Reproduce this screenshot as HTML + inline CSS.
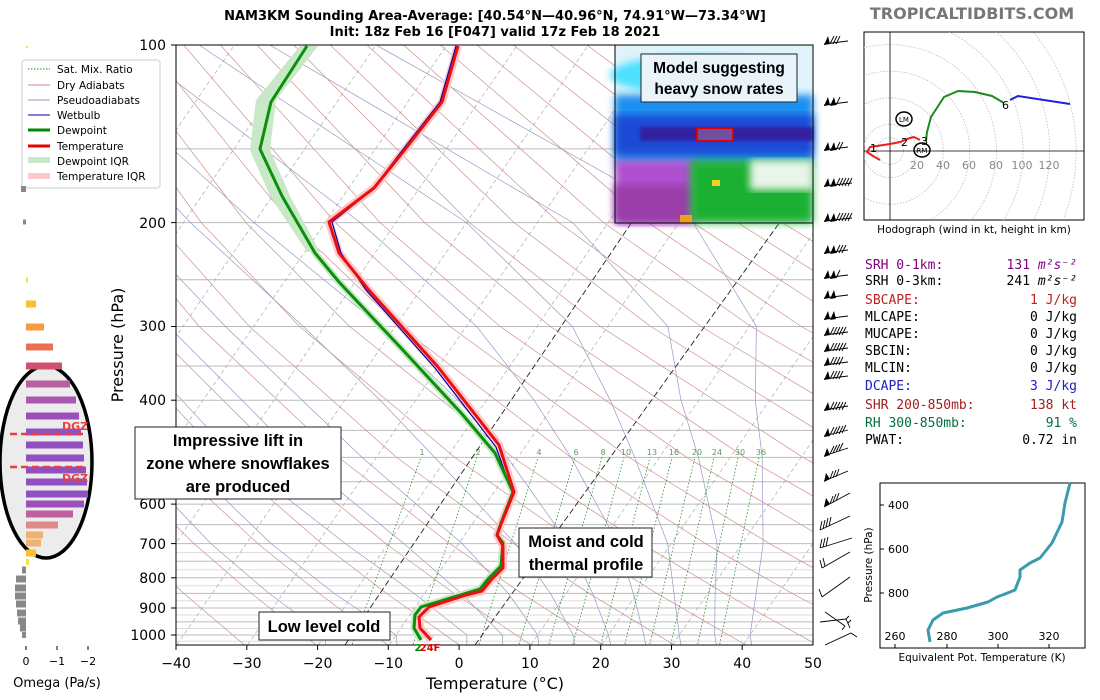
<!DOCTYPE html>
<html><head><meta charset="utf-8"><style>
html,body{margin:0;padding:0;background:#fff;width:1100px;height:700px;overflow:hidden}
svg{display:block;font-family:"DejaVu Sans","Liberation Sans",sans-serif}
.mono{font-family:"DejaVu Sans Mono","Liberation Mono",monospace;font-size:13px}
</style></head><body>
<svg width="1100" height="700" viewBox="0 0 1100 700" xmlns="http://www.w3.org/2000/svg">
<defs>
<clipPath id="ax"><rect x="176" y="45" width="637" height="600"/></clipPath>
<clipPath id="hod"><rect x="864" y="32" width="220" height="188"/></clipPath>
<filter id="bl"><feGaussianBlur stdDeviation="4"/></filter>
<filter id="bl2"><feGaussianBlur stdDeviation="1.5"/></filter>
</defs>
<rect width="1100" height="700" fill="#fff"/>
<text x="495" y="20" font-size="13" font-weight="bold" text-anchor="middle">NAM3KM Sounding Area-Average: [40.54°N—40.96°N, 74.91°W—73.34°W]</text>
<text x="495" y="36" font-size="13" font-weight="bold" text-anchor="middle">Init: 18z Feb 16 [F047] valid 17z Feb 18 2021</text>
<text x="972" y="19" font-size="16" font-weight="bold" fill="#777" text-anchor="middle">TROPICALTIDBITS.COM</text>

<g clip-path="url(#ax)">
<g stroke="#bbb" stroke-width="1">
<line x1="176" x2="813" y1="45" y2="45"/><line x1="176" x2="813" y1="148.9" y2="148.9"/><line x1="176" x2="813" y1="222.6" y2="222.6"/><line x1="176" x2="813" y1="279.8" y2="279.8"/><line x1="176" x2="813" y1="326.5" y2="326.5"/><line x1="176" x2="813" y1="366" y2="366"/><line x1="176" x2="813" y1="400.2" y2="400.2"/><line x1="176" x2="813" y1="430.4" y2="430.4"/><line x1="176" x2="813" y1="457.4" y2="457.4"/><line x1="176" x2="813" y1="481.8" y2="481.8"/><line x1="176" x2="813" y1="504.1" y2="504.1"/><line x1="176" x2="813" y1="524.6" y2="524.6"/><line x1="176" x2="813" y1="543.6" y2="543.6"/><line x1="176" x2="813" y1="561.3" y2="561.3"/><line x1="176" x2="813" y1="577.8" y2="577.8"/><line x1="176" x2="813" y1="593.4" y2="593.4"/><line x1="176" x2="813" y1="608" y2="608"/><line x1="176" x2="813" y1="621.9" y2="621.9"/><line x1="176" x2="813" y1="635" y2="635"/>
</g>
<g stroke="#ddd" stroke-width="1">
<line x1="176" x2="813" y1="552.6" y2="552.6"/><line x1="176" x2="813" y1="569.7" y2="569.7"/><line x1="176" x2="813" y1="585.7" y2="585.7"/><line x1="176" x2="813" y1="600.8" y2="600.8"/><line x1="176" x2="813" y1="615" y2="615"/><line x1="176" x2="813" y1="628.5" y2="628.5"/><line x1="176" x2="813" y1="641.3" y2="641.3"/>
</g>
<g stroke="#aaa" stroke-width="0.7" stroke-dasharray="4,3">
<line x1="-248" y1="645" x2="163.6" y2="45"/><line x1="-177.2" y1="645" x2="234.4" y2="45"/><line x1="-106.4" y1="645" x2="305.2" y2="45"/><line x1="-35.6" y1="645" x2="376" y2="45"/><line x1="35.2" y1="645" x2="446.8" y2="45"/><line x1="106" y1="645" x2="517.6" y2="45"/><line x1="176.8" y1="645" x2="588.4" y2="45"/><line x1="247.6" y1="645" x2="659.2" y2="45"/><line x1="318.4" y1="645" x2="730" y2="45"/><line x1="389.2" y1="645" x2="800.8" y2="45"/><line x1="530.8" y1="645" x2="942.4" y2="45"/><line x1="601.6" y1="645" x2="1013.2" y2="45"/><line x1="672.4" y1="645" x2="1084" y2="45"/><line x1="743.2" y1="645" x2="1154.8" y2="45"/>
</g>
<g fill="none" stroke="#d09090" stroke-width="0.7">
<polyline points="175.7,647.5 116.2,593.4 66.1,543.6 -9.8,457.4"/>
<polyline points="247.5,647.5 183.8,593.4 130,543.6 48.3,457.4 -51.5,326.5"/>
<polyline points="319.3,647.5 251.4,593.4 194,543.6 106.3,457.4 -1.4,326.5"/>
<polyline points="391.1,647.5 319,593.4 257.9,543.6 164.4,457.4 48.8,326.5 -22.2,222.6"/>
<polyline points="462.9,647.5 386.5,593.4 321.8,543.6 222.4,457.4 98.9,326.5 22.5,222.6"/>
<polyline points="534.7,647.5 454.1,593.4 385.8,543.6 280.5,457.4 149.1,326.5 67.2,222.6"/>
<polyline points="606.5,647.5 521.7,593.4 449.7,543.6 338.6,457.4 199.3,326.5 111.8,222.6 0.5,45"/>
<polyline points="678.3,647.5 589.3,593.4 513.6,543.6 396.6,457.4 249.4,326.5 156.5,222.6 37.1,45"/>
<polyline points="750.1,647.5 656.9,593.4 577.6,543.6 454.7,457.4 299.6,326.5 201.2,222.6 73.8,45"/>
<polyline points="821.9,647.5 724.5,593.4 641.5,543.6 512.8,457.4 349.7,326.5 245.9,222.6 110.4,45"/>
<polyline points="893.7,647.5 792.1,593.4 705.4,543.6 570.8,457.4 399.9,326.5 290.6,222.6 147.1,45"/>
<polyline points="965.4,647.5 859.6,593.4 769.4,543.6 628.9,457.4 450.1,326.5 335.3,222.6 183.7,45"/>
<polyline points="1037.2,647.5 927.2,593.4 833.3,543.6 686.9,457.4 500.2,326.5 380,222.6 220.4,45"/>
<polyline points="1109,647.5 994.8,593.4 897.2,543.6 745,457.4 550.4,326.5 424.7,222.6 257,45"/>
<polyline points="1062.4,593.4 961.2,543.6 803.1,457.4 600.5,326.5 469.4,222.6 293.7,45"/>
<polyline points="1025.1,543.6 861.1,457.4 650.7,326.5 514.1,222.6 330.3,45"/>
<polyline points="1089,543.6 919.2,457.4 700.9,326.5 558.8,222.6 367,45"/>
<polyline points="977.3,457.4 751,326.5 603.5,222.6 403.6,45"/>
<polyline points="1035.3,457.4 801.2,326.5 648.1,222.6 440.2,45"/>
<polyline points="1093.4,457.4 851.3,326.5 692.8,222.6 476.9,45"/>
<polyline points="1151.4,457.4 901.5,326.5 737.5,222.6 513.5,45"/>
<polyline points="1209.5,457.4 951.7,326.5 782.2,222.6 550.2,45"/>
<polyline points="1267.6,457.4 1001.8,326.5 826.9,222.6 586.8,45"/>
<polyline points="1325.6,457.4 1052,326.5 871.6,222.6 623.5,45"/>
<polyline points="1102.1,326.5 916.3,222.6 660.1,45"/>
<polyline points="1160,326.5 961,222.6 696.8,45"/>
<polyline points="1202.5,326.5 1005.7,222.6 733.4,45"/>
<polyline points="1252.6,326.5 1050.4,222.6 770.1,45"/>
<polyline points="1302.8,326.5 1095.1,222.6 806.7,45"/>
</g>
<g fill="none" stroke="#9898c8" stroke-width="0.7">
<polyline points="325.9,647.5 325.3,635 269,593.4 210.9,543.6 128.5,457.4 82.7,400.2 27.1,326.5"/>
<polyline points="397.4,647.5 396.1,635 334.2,593.4 271.1,543.6 181.6,457.4 132.3,400.2 69.6,326.5 6.3,222.6"/>
<polyline points="466.8,647.5 466.9,635 414.2,593.4 345.4,543.6 234.7,457.4 181.9,400.2 112.1,326.5 41.7,222.6"/>
<polyline points="502.9,647.5 502.3,635 461.3,593.4 403.8,543.6 298.4,457.4 242,400.2 168.7,326.5 84.2,222.6"/>
<polyline points="539,647.5 537.7,635 508.3,593.4 462.2,543.6 362.1,457.4 302.2,400.2 225.4,326.5 126.7,222.6 -13.4,45"/>
<polyline points="575.1,647.5 573.1,635 550.5,593.4 515.3,543.6 434.7,457.4 380.1,400.2 303.3,326.5 190.4,222.6 22,45"/>
<polyline points="611.2,647.5 608.5,635 592.6,593.4 568.4,543.6 507.3,457.4 458,400.2 381.1,326.5 254.1,222.6 57.4,45"/>
<polyline points="646.3,647.5 643.9,635 633.3,593.4 618,543.6 571,457.4 534.1,400.2 476.7,326.5 360.3,222.6 128.2,45"/>
<polyline points="681.3,647.5 679.3,635 674,593.4 667.6,543.6 634.7,457.4 610.2,400.2 572.3,326.5 466.5,222.6 199,45"/>
<polyline points="716.7,647.5 714.7,635 715.1,593.4 717.1,543.6 698.4,457.4 681,400.2 667.9,326.5 572.7,222.6 269.8,45"/>
<polyline points="752.1,647.5 750.1,635 756.1,593.4 763.1,543.6 762.2,457.4 755.3,400.2 756.4,326.5 693.1,222.6 376,45"/>
</g>
<g fill="none" stroke="#2a8a2a" stroke-width="0.8" stroke-dasharray="1.5,2">
<line x1="351" y1="647.5" x2="421" y2="457.4"/><line x1="412" y1="647.5" x2="477" y2="457.4"/><line x1="478" y1="647.5" x2="538" y2="457.4"/><line x1="518" y1="647.5" x2="575" y2="457.4"/><line x1="548" y1="647.5" x2="602" y2="457.4"/><line x1="572" y1="647.5" x2="624" y2="457.4"/><line x1="600" y1="647.5" x2="650" y2="457.4"/><line x1="624" y1="647.5" x2="672" y2="457.4"/><line x1="649" y1="647.5" x2="695" y2="457.4"/><line x1="670" y1="647.5" x2="714" y2="457.4"/><line x1="697" y1="647.5" x2="738" y2="457.4"/><line x1="719" y1="647.5" x2="759" y2="457.4"/>
</g>
<g font-size="8" fill="#5a9a5a" text-anchor="middle">
<text x="422" y="455">1</text><text x="478" y="455">2</text><text x="539" y="455">4</text><text x="576" y="455">6</text><text x="603" y="455">8</text><text x="626" y="455">10</text><text x="652" y="455">13</text><text x="674" y="455">16</text><text x="697" y="455">20</text><text x="717" y="455">24</text><text x="740" y="455">30</text><text x="761" y="455">36</text>
</g>
<line x1="345" y1="645" x2="632" y2="222" stroke="#222" stroke-width="0.9" stroke-dasharray="6,3"/>
<line x1="475" y1="645" x2="780" y2="222" stroke="#222" stroke-width="0.9" stroke-dasharray="6,3"/>
<polygon points="300,46 318,46 276,100 270,150 290,196 320,252 307,252 270,196 250,150 256,100" fill="#c8e8c8"/>
<polyline points="307,46 271,102 260,149 282,196 315,253 339,282 401,348 462,414 495,453 513,492 501,523 497,535 503,543 501,566 489,578 480,589 421,607 415,615 414,628 421,640" fill="none" stroke="#c8e8c8" stroke-width="7" stroke-linejoin="round"/>
<polyline points="458,46 442,102 403,152 374,188 329,222 339,253 368,289 438,367 499,445 514,492 503,519 497,535 503,546 503,568 491,580 482,591 466,595 429,607 419,617 420,628 431,640" fill="none" stroke="#ffc8c8" stroke-width="8" stroke-linejoin="round"/>
<polyline points="456,46 440,102 401,152 372,190 332,222 341,253 366,290 435,368 496,447 512,492" fill="none" stroke="#0000b0" stroke-width="1.2"/>
<polyline points="307,46 271,102 260,149 282,196 315,253 339,282 401,348 462,414 495,453 513,492 501,523 497,535 503,543 501,566 489,578 480,589 421,607 415,615 414,628 421,640" fill="none" stroke="#0a900a" stroke-width="3" stroke-linejoin="round"/>
<polyline points="458,46 442,102 403,152 374,188 329,222 339,253 368,289 438,367 499,445 514,492 503,519 497,535 503,546 503,568 491,580 482,591 466,595 429,607 419,617 420,628 431,640" fill="none" stroke="#e81010" stroke-width="3" stroke-linejoin="round"/>
</g>

<g>
<rect x="615" y="45" width="198" height="178" fill="#dff3fb"/>
<ellipse cx="700" cy="75" rx="90" ry="20" fill="#4ee0ff" filter="url(#bl)"/>
<rect x="615" y="95" width="198" height="70" fill="#1a8ff0" filter="url(#bl)"/>
<rect x="615" y="115" width="198" height="40" fill="#1a4ad6" filter="url(#bl)"/>
<rect x="640" y="127" width="173" height="14" fill="#3020a0" filter="url(#bl2)"/>
<rect x="615" y="160" width="80" height="63" fill="#b050d0" filter="url(#bl)"/>
<rect x="615" y="185" width="75" height="38" fill="#9b3ea8" filter="url(#bl)"/>
<rect x="690" y="160" width="123" height="63" fill="#1fb030" filter="url(#bl)"/>
<rect x="750" y="160" width="63" height="30" fill="#e8f5e8" filter="url(#bl)"/>
<rect x="712" y="180" width="8" height="6" fill="#f0d020"/>
<rect x="680" y="215" width="12" height="8" fill="#f0a020"/>
<rect x="697" y="128" width="36" height="13" fill="#7050a0" stroke="#d00" stroke-width="2"/>
<rect x="615" y="45" width="198" height="178" fill="none" stroke="#000" stroke-width="1"/>
<rect x="641" y="54" width="156" height="48" fill="#e8f4fa" stroke="#222" stroke-width="1"/>
<text x="719" y="73" font-size="15.5" font-weight="bold" text-anchor="middle" font-family="Liberation Sans, sans-serif">Model suggesting</text>
<text x="719" y="94" font-size="15.5" font-weight="bold" text-anchor="middle" font-family="Liberation Sans, sans-serif">heavy snow rates</text>
</g>
<rect x="176" y="45" width="637" height="600" fill="none" stroke="#000" stroke-width="1"/>
<g font-size="14" text-anchor="middle">
<text x="176" y="668">−40</text><text x="246.8" y="668">−30</text><text x="317.6" y="668">−20</text><text x="388.3" y="668">−10</text><text x="459.1" y="668">0</text><text x="529.9" y="668">10</text><text x="600.7" y="668">20</text><text x="671.5" y="668">30</text><text x="742.2" y="668">40</text><text x="813" y="668">50</text>
</g>
<g stroke="#000">
<line x1="176" x2="176" y1="645" y2="650"/><line x1="246.8" x2="246.8" y1="645" y2="650"/><line x1="317.6" x2="317.6" y1="645" y2="650"/><line x1="388.3" x2="388.3" y1="645" y2="650"/><line x1="459.1" x2="459.1" y1="645" y2="650"/><line x1="529.9" x2="529.9" y1="645" y2="650"/><line x1="600.7" x2="600.7" y1="645" y2="650"/><line x1="671.5" x2="671.5" y1="645" y2="650"/><line x1="742.2" x2="742.2" y1="645" y2="650"/>
<line x1="171" x2="176" y1="45" y2="45"/><line x1="171" x2="176" y1="222.6" y2="222.6"/><line x1="171" x2="176" y1="326.5" y2="326.5"/><line x1="171" x2="176" y1="400.2" y2="400.2"/><line x1="171" x2="176" y1="457.4" y2="457.4"/><line x1="171" x2="176" y1="504.1" y2="504.1"/><line x1="171" x2="176" y1="543.6" y2="543.6"/><line x1="171" x2="176" y1="577.8" y2="577.8"/><line x1="171" x2="176" y1="608" y2="608"/><line x1="171" x2="176" y1="635" y2="635"/>
</g>
<g font-size="14" text-anchor="end">
<text x="166" y="50">100</text><text x="166" y="228">200</text><text x="166" y="331">300</text><text x="166" y="405">400</text><text x="166" y="462">500</text><text x="166" y="509">600</text><text x="166" y="549">700</text><text x="166" y="583">800</text><text x="166" y="613">900</text><text x="166" y="640">1000</text>
</g>
<text x="495" y="689" font-size="16" text-anchor="middle">Temperature (°C)</text>
<text transform="translate(123,345) rotate(-90)" font-size="16" text-anchor="middle">Pressure (hPa)</text>
<g font-family="Liberation Sans, sans-serif" font-weight="bold" font-size="16.5" text-anchor="middle">
<rect x="135" y="427" width="206" height="72" fill="#fff" stroke="#222"/>
<text x="238" y="446">Impressive lift in</text>
<text x="238" y="469">zone where snowflakes</text>
<text x="238" y="492">are produced</text>
<rect x="259" y="612" width="131" height="28" fill="#fff" stroke="#222"/>
<text x="324" y="632">Low level cold</text>
<rect x="519" y="528" width="133" height="49" fill="#fff" stroke="#222"/>
<text x="586" y="547">Moist and cold</text>
<text x="586" y="570">thermal profile</text>
</g>
<text x="430" y="651" font-size="10" font-weight="bold" fill="#d00" text-anchor="middle">24F</text>
<text x="418" y="651" font-size="10" font-weight="bold" fill="#080" text-anchor="middle">2</text>
<g font-size="10.5">
<rect x="22" y="60" width="138" height="128" fill="#fff" stroke="#ccc" rx="3"/>
<line x1="28" y1="69" x2="50" y2="69" stroke="#2a8a2a" stroke-dasharray="1.5,1.5"/><text x="57" y="73">Sat. Mix. Ratio</text>
<line x1="28" y1="85" x2="50" y2="85" stroke="#c88"/><text x="57" y="89">Dry Adiabats</text>
<line x1="28" y1="100" x2="50" y2="100" stroke="#99b"/><text x="57" y="104">Pseudoadiabats</text>
<line x1="28" y1="115" x2="50" y2="115" stroke="#00a"/><text x="57" y="119">Wetbulb</text>
<line x1="28" y1="130" x2="50" y2="130" stroke="#080" stroke-width="3"/><text x="57" y="134">Dewpoint</text>
<line x1="28" y1="146" x2="50" y2="146" stroke="#e00" stroke-width="3"/><text x="57" y="150">Temperature</text>
<rect x="28" y="157" width="22" height="6" fill="#c8e8c8"/><text x="57" y="165">Dewpoint IQR</text>
<rect x="28" y="173" width="22" height="6" fill="#ffc8c8"/><text x="57" y="180">Temperature IQR</text>
</g>
<ellipse cx="46" cy="462" rx="46" ry="96" fill="#ececec" stroke="#000" stroke-width="3.5"/>
<g>
<rect x="26" y="46" width="2" height="2" fill="#e8e840"/>
<rect x="21" y="186" width="5" height="6" fill="#888"/>
<rect x="23" y="219.5" width="3" height="5" fill="#888"/>
<rect x="26" y="277.5" width="2" height="5" fill="#e8e840"/>
<rect x="26" y="300.5" width="10" height="7" fill="#f8c030"/>
<rect x="26" y="323.5" width="18" height="7" fill="#f89a40"/>
<rect x="26" y="343.5" width="27" height="7" fill="#e87050"/>
<rect x="26" y="362.5" width="36" height="7" fill="#d05070"/>
<rect x="26" y="380.5" width="44" height="7" fill="#b860a0"/>
<rect x="26" y="396.5" width="50" height="7" fill="#a858b0"/>
<rect x="26" y="412.5" width="53" height="7" fill="#9a50b8"/>
<rect x="26" y="428.5" width="55" height="7" fill="#9050c0"/>
<rect x="26" y="441.5" width="57" height="7" fill="#9050c0"/>
<rect x="26" y="454.5" width="58" height="7" fill="#9050c0"/>
<rect x="26" y="466.5" width="60" height="7" fill="#9050c0"/>
<rect x="26" y="478.5" width="61" height="7" fill="#9050c0"/>
<rect x="26" y="490.5" width="62" height="7" fill="#9050c0"/>
<rect x="26" y="500.5" width="58" height="7" fill="#9a50b8"/>
<rect x="26" y="510.5" width="47" height="7" fill="#c060a0"/>
<rect x="26" y="521.5" width="32" height="7" fill="#e08888"/>
<rect x="26" y="531.5" width="17" height="7" fill="#f0b070"/>
<rect x="26" y="539.5" width="15" height="7" fill="#f0b070"/>
<rect x="26" y="549.5" width="10" height="7" fill="#f8c030"/>
<rect x="26" y="559" width="3" height="6" fill="#e8e840"/>
<rect x="22" y="566.5" width="4" height="7" fill="#888"/>
<rect x="16" y="575.5" width="10" height="7" fill="#888"/>
<rect x="15" y="584.5" width="11" height="7" fill="#888"/>
<rect x="15" y="592.5" width="11" height="7" fill="#888"/>
<rect x="16" y="600.5" width="10" height="7" fill="#888"/>
<rect x="17" y="609.5" width="9" height="7" fill="#888"/>
<rect x="18" y="617.5" width="8" height="7" fill="#888"/>
<rect x="20" y="624.5" width="6" height="7" fill="#888"/>
<rect x="22" y="632" width="4" height="6" fill="#888"/>
</g>
<line x1="10" x2="87" y1="434" y2="434" stroke="#e84040" stroke-width="2.5" stroke-dasharray="7,4"/>
<line x1="10" x2="87" y1="467" y2="467" stroke="#e84040" stroke-width="2.5" stroke-dasharray="7,4"/>
<text x="62" y="430" font-size="11" font-weight="bold" fill="#e84040">DGZ</text>
<text x="62" y="482" font-size="11" font-weight="bold" fill="#e84040">DGZ</text>
<g stroke="#000"><line x1="26" x2="26" y1="646" y2="650"/><line x1="57" x2="57" y1="646" y2="650"/><line x1="88" x2="88" y1="646" y2="650"/></g>
<g font-size="11" text-anchor="middle"><text x="26" y="665">0</text><text x="57" y="665">−1</text><text x="88" y="665">−2</text></g>
<text x="57" y="687" font-size="13" text-anchor="middle">Omega (Pa/s)</text>
<g stroke="#000" stroke-width="0.9" fill="#000">
<g transform="translate(824,42)"><path d="M0,2L24,-1M6,2l4,-8M9,2l4,-8M12,2l4,-8" fill="none"/><path d="M0,3L6,2L4,-6Z" stroke="none"/></g>
<g transform="translate(824,103)"><path d="M0,2L24,-1M12,2l4,-8" fill="none"/><path d="M0,3L6,2L4,-6ZM6,3L12,2L10,-6Z" stroke="none"/></g>
<g transform="translate(824,148)"><path d="M0,2L24,-1M12,2l4,-8M15,2l4,-8" fill="none"/><path d="M0,3L6,2L4,-6ZM6,3L12,2L10,-6Z" stroke="none"/></g>
<g transform="translate(824,184)"><path d="M0,2L28,-1M12,2l4,-8M15,2l4,-8M18,2l4,-8M21,2l4,-8M24,2l4,-8" fill="none"/><path d="M0,3L6,2L4,-6ZM6,3L12,2L10,-6Z" stroke="none"/></g>
<g transform="translate(824,219)"><path d="M0,2L28,-1M12,2l4,-8M15,2l4,-8M18,2l4,-8M21,2l4,-8M24,2l4,-8" fill="none"/><path d="M0,3L6,2L4,-6ZM6,3L12,2L10,-6Z" stroke="none"/></g>
<g transform="translate(824,251)"><path d="M0,2L24,-1M12,2l4,-8M15,2l4,-8M18,2l4,-8" fill="none"/><path d="M0,3L6,2L4,-6ZM6,3L12,2L10,-6Z" stroke="none"/></g>
<g transform="translate(824,276)"><path d="M0,2L24,-1M12,2l4,-8" fill="none"/><path d="M0,3L6,2L4,-6ZM6,3L12,2L10,-6Z" stroke="none"/></g>
<g transform="translate(824,296)"><path d="M0,2L24,-1" fill="none"/><path d="M0,3L6,2L4,-6ZM6,3L12,2L10,-6Z" stroke="none"/></g>
<g transform="translate(824,317)"><path d="M0,2L24,-1" fill="none"/><path d="M0,3L6,2L4,-6ZM6,3L12,2L10,-6Z" stroke="none"/></g>
<g transform="translate(824,333)"><path d="M0,2L24,-1M6,2l4,-8M9,2l4,-8M12,2l4,-8M15,2l4,-8M18,2l4,-8" fill="none"/><path d="M0,3L6,2L4,-6Z" stroke="none"/></g>
<g transform="translate(824,349)"><path d="M0,2L24,-1M6,2l4,-8M9,2l4,-8M12,2l4,-8M15,2l4,-8M18,2l4,-8" fill="none"/><path d="M0,3L6,2L4,-6Z" stroke="none"/></g>
<g transform="translate(824,363)"><path d="M0,2L24,-1M6,2l4,-8M9,2l4,-8M12,2l4,-8M15,2l4,-8" fill="none"/><path d="M0,3L6,2L4,-6Z" stroke="none"/></g>
<g transform="translate(824,377)"><path d="M0,2L24,-1M6,2l4,-8M9,2l4,-8M12,2l4,-8M15,2l4,-8" fill="none"/><path d="M0,3L6,2L4,-6Z" stroke="none"/></g>
<g transform="translate(824,408)"><path d="M0,2L24,-2M6,2l4,-8M9,2l4,-8M12,2l4,-8M15,2l4,-8M18,2l4,-8" fill="none"/><path d="M0,3L6,2L4,-6Z" stroke="none"/></g>
<g transform="translate(824,434)"><path d="M0,2L24,-4M6,1l4,-8M9,1l4,-8M12,0l4,-8M15,0l4,-8M18,-1l4,-8" fill="none"/><path d="M0,3L6,2L4,-6Z" stroke="none"/></g>
<g transform="translate(824,454)"><path d="M0,2L24,-6M6,0l4,-8M9,-1l4,-8M12,-2l4,-8M15,-3l4,-8" fill="none"/><path d="M0,3L6,1L3,-6Z" stroke="none"/></g>
<g transform="translate(824,479)"><path d="M0,2L24,-8M6,0l3,-8M9,-1l3,-8M12,-2l3,-8" fill="none"/><path d="M0,3L6,0L2,-6Z" stroke="none"/></g>
<g transform="translate(824,503)"><path d="M0,4L26,-10M6,1l3,-8M9,-1l3,-8M12,-2l3,-8" fill="none"/><path d="M0,4L6,1L2,-5Z" stroke="none"/></g>
<g transform="translate(820,526)" fill="none"><path d="M0,4L30,-10M0,4l2,-9M3,3l2,-9M6,1l2,-9M9,0l2,-9"/></g>
<g transform="translate(820,546)" fill="none"><path d="M0,2L32,-8M0,2l2,-9M3,1l2,-9M6,0l2,-9"/></g>
<g transform="translate(820,564)" fill="none"><path d="M2,4L30,-12M2,4l-2,-8M5,2l-2,-8"/></g>
<g transform="translate(820,591)" fill="none"><path d="M2,6L30,-14M2,6l-3,-8"/></g>
<g transform="translate(825,612)" fill="none"><path d="M0,0L20,14M20,14l-3,4"/></g>
<g transform="translate(820,628)" fill="none"><path d="M0,-6L26,-9L30,0M26,-9l3,-3M28,-5l3,-3"/></g>
<g transform="translate(825,645)" fill="none"><path d="M0,0L26,-12L32,-8"/></g>
</g>
<rect x="864" y="32" width="220" height="188" fill="#fff" stroke="#000"/>
<g clip-path="url(#hod)">
<g fill="none" stroke="#bbb" stroke-width="0.8" stroke-dasharray="1.5,1.5">
<circle cx="890" cy="151" r="13.3"/><circle cx="890" cy="151" r="26.6"/><circle cx="890" cy="151" r="53.2"/><circle cx="890" cy="151" r="79.8"/><circle cx="890" cy="151" r="106.4"/><circle cx="890" cy="151" r="133"/><circle cx="890" cy="151" r="159.6"/><circle cx="890" cy="151" r="186.2"/>
</g>
<line x1="864" x2="1084" y1="151" y2="151" stroke="#000" stroke-width="0.8"/>
<line x1="890" x2="890" y1="32" y2="220" stroke="#000" stroke-width="0.8"/>
<g font-size="11" fill="#888" text-anchor="middle"><text x="917" y="169">20</text><text x="943" y="169">40</text><text x="969" y="169">60</text><text x="996" y="169">80</text><text x="1022" y="169">100</text><text x="1049" y="169">120</text></g>
<polyline points="880,160 873,156 867,152 870,147 877,146 890,144 900,142 910,138 914,137 920,140" fill="none" stroke="#e82020" stroke-width="2"/>
<polyline points="926,141 927,132 931,117 944,97 958,91 975,92 992,96 1004,103" fill="none" stroke="#1a8a1a" stroke-width="2"/>
<polyline points="1010,100 1018,96 1070,104" fill="none" stroke="#2020e0" stroke-width="2"/>
<g font-size="11"><text x="870" y="152">1</text><text x="901" y="146">2</text><text x="921" y="145">3</text><text x="1002" y="109">6</text></g>
<ellipse cx="904" cy="119" rx="8" ry="7" fill="none" stroke="#000" stroke-width="1.5"/><text x="904" y="122" font-size="7" text-anchor="middle">LM</text>
<ellipse cx="922" cy="150" rx="8" ry="7" fill="none" stroke="#000" stroke-width="1.5"/><text x="922" y="153" font-size="7" text-anchor="middle">RM</text>
</g>
<text x="974" y="233" font-size="10.5" text-anchor="middle">Hodograph (wind in kt, height in km)</text>
<g class="mono">
<text x="865" y="269" fill="#800080">SRH 0-1km:</text><text x="1077" y="269" fill="#800080" text-anchor="end">131 <tspan font-style="italic">m²s⁻²</tspan></text>
<text x="865" y="285">SRH 0-3km:</text><text x="1077" y="285" text-anchor="end">241 <tspan font-style="italic">m²s⁻²</tspan></text>
<text x="865" y="304" fill="#c02020">SBCAPE:</text><text x="1077" y="304" fill="#c02020" text-anchor="end">1 J/kg</text>
<text x="865" y="321">MLCAPE:</text><text x="1077" y="321" text-anchor="end">0 J/kg</text>
<text x="865" y="338">MUCAPE:</text><text x="1077" y="338" text-anchor="end">0 J/kg</text>
<text x="865" y="355">SBCIN:</text><text x="1077" y="355" text-anchor="end">0 J/kg</text>
<text x="865" y="372">MLCIN:</text><text x="1077" y="372" text-anchor="end">0 J/kg</text>
<text x="865" y="390" fill="#2020c0">DCAPE:</text><text x="1077" y="390" fill="#2020c0" text-anchor="end">3 J/kg</text>
<text x="865" y="409" fill="#a02020">SHR 200-850mb:</text><text x="1077" y="409" fill="#a02020" text-anchor="end">138 kt</text>
<text x="865" y="427" fill="#007040">RH 300-850mb:</text><text x="1077" y="427" fill="#007040" text-anchor="end">91 %</text>
<text x="865" y="444">PWAT:</text><text x="1077" y="444" text-anchor="end">0.72 in</text>
</g>
<g font-size="11">
<rect x="880" y="483" width="205" height="165" fill="#fff" stroke="#000"/>
<polyline fill="none" stroke="#3a9aae" stroke-width="3" stroke-linejoin="round" points="1070,483 1065,503 1062,522 1052,543 1040,558 1030,563 1020,570 1020,577 1015,590 1005,594 997,597 988,602 967,608 943,613 933,620 928,630 930,642"/>
<g stroke="#000"><line x1="880" y1="505" x2="884" y2="505"/><line x1="880" y1="549" x2="884" y2="549"/><line x1="880" y1="593" x2="884" y2="593"/><line x1="895" y1="648" x2="895" y2="644"/><line x1="947" y1="648" x2="947" y2="644"/><line x1="998" y1="648" x2="998" y2="644"/><line x1="1049" y1="648" x2="1049" y2="644"/></g>
<text x="888" y="509">400</text><text x="888" y="553">600</text><text x="888" y="597">800</text>
<g text-anchor="middle"><text x="895" y="640">260</text><text x="947" y="640">280</text><text x="998" y="640">300</text><text x="1049" y="640">320</text></g>
<text x="982" y="661" font-size="10.5" text-anchor="middle">Equivalent Pot. Temperature (K)</text>
<text transform="translate(872,565) rotate(-90)" font-size="10.5" text-anchor="middle">Pressure (hPa)</text>
</g>
</svg>
</body></html>
